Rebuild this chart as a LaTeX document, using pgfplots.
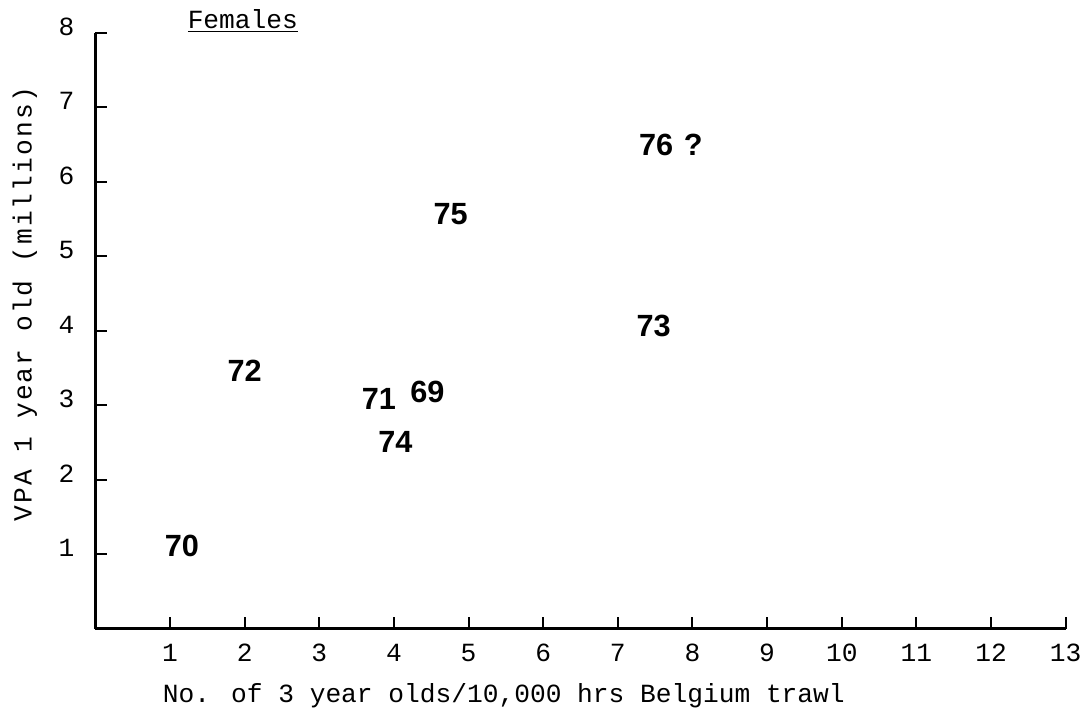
\documentclass[border=0pt]{standalone}
\usepackage{fontspec}
\setmainfont{Liberation Mono}
\newfontfamily\labfont{Liberation Sans}
\newfontfamily\ylabfont[LetterSpace=8]{Liberation Mono}
\usepackage{pgfplots}
\pgfplotsset{compat=1.18}

\begin{document}
\begin{tikzpicture}
\begin{axis}[
  name=ax,
  scale only axis,
  width=488.5bp, height=300bp,
  xmin=0, xmax=13, ymin=0, ymax=8,
  axis x line*=bottom, axis y line*=left,
  axis line style={-, line width=1.8bp},
  xtick={1,...,13}, ytick={1,...,8},
  tick align=inside,
  major tick length=6bp,
  tick style={black, line width=1bp},
  /pgf/number format/assume math mode=true,
  ticklabel style={font=\fontsize{13.25}{15}\selectfont},
  xticklabel style={anchor=center, yshift=-12bp},
  yticklabel style={anchor=center, xshift=-14.5bp, yshift=3bp},
  xlabel={No. of 3 year olds/10,000 hrs Belgium trawl},
  xlabel style={font=\fontsize{13.25}{15}\selectfont,
    at={(axis description cs:0.421,-0.113)}, anchor=center},
  ylabel={VPA 1 year old (millions)},
  ylabel style={font=\ylabfont\fontsize{13.25}{15}\selectfont,
    at={(axis description cs:-0.0727,0.545)}, anchor=center},
  clip=false,
]
% year labels placed at their values
\addplot[only marks, mark=none,
  nodes near coords, point meta=explicit symbolic,
  every node near coord/.style={anchor=center, inner sep=0pt,
    font=\labfont\bfseries\fontsize{15.5}{18}\selectfont}]
coordinates {
  (1.16,1.11) [70]
  (2.00,3.46) [72]
  (3.80,3.08) [71]
  (4.45,3.18) [69]
  (4.02,2.51) [74]
  (4.76,5.56) [75]
  (7.48,4.06) [73]
  (7.71,6.49) [76\hspace{0.35em}?]
};
\node[anchor=base, font=\fontsize{13.25}{15}\selectfont]
  at (axis description cs:0.152,1.008) {\underline{Females}};
\end{axis}
\path ([shift={(-48bp,-44bp)}]ax.south west) rectangle ([shift={(7.5bp,16.5bp)}]ax.north east);
\end{tikzpicture}
\end{document}
